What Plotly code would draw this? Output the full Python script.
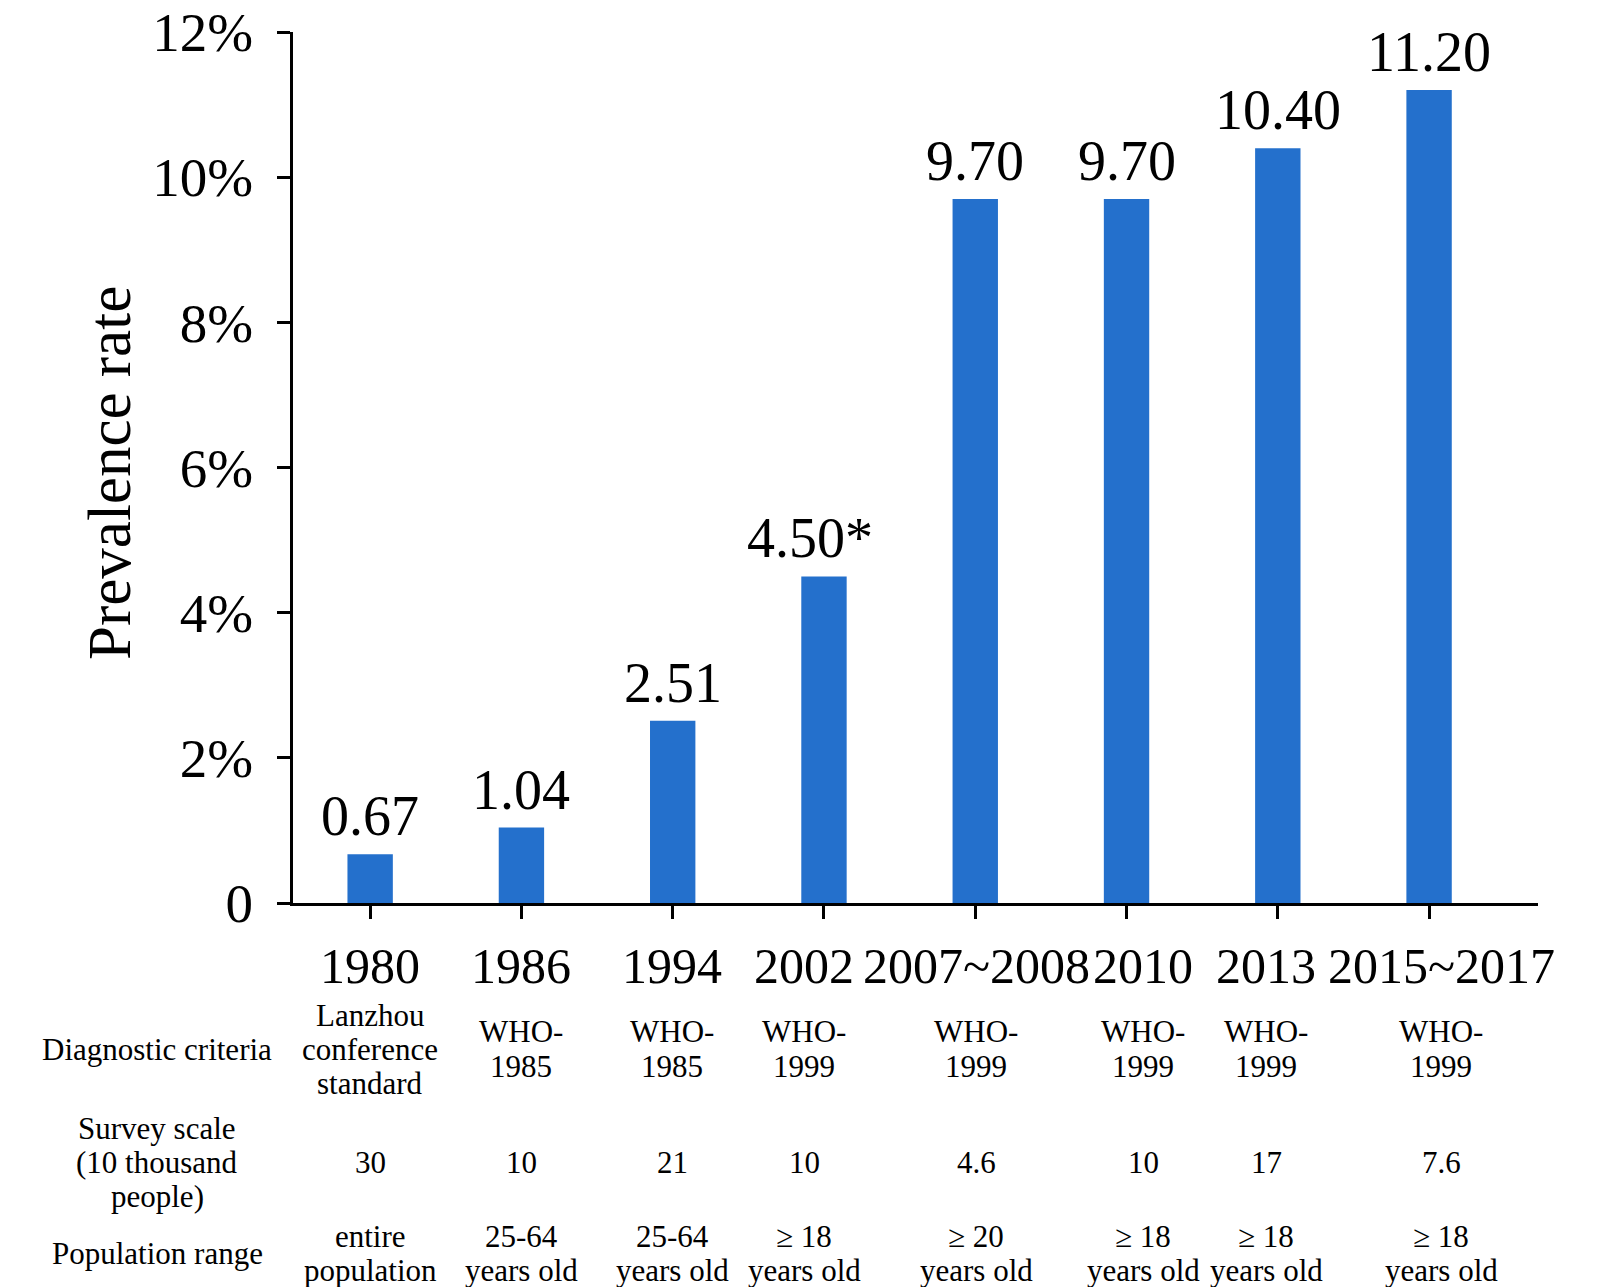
import plotly.graph_objects as go

# ---- data ----
years = ["1980", "1986", "1994", "2002", "2007~2008", "2010", "2013", "2015~2017"]
prevalence = [0.67, 1.04, 2.51, 4.50, 9.70, 9.70, 10.40, 11.20]
value_labels = ["0.67", "1.04", "2.51", "4.50*", "9.70", "9.70", "10.40", "11.20"]
criteria = ["Lanzhou<br>conference<br>standard", "WHO-<br>1985", "WHO-<br>1985", "WHO-<br>1999",
            "WHO-<br>1999", "WHO-<br>1999", "WHO-<br>1999", "WHO-<br>1999"]
survey_scale = ["30", "10", "21", "10", "4.6", "10", "17", "7.6"]
population = ["entire<br>population", "25-64<br>years old", "25-64<br>years old", "≥ 18<br>years old",
              "≥ 20<br>years old", "≥ 18<br>years old", "≥ 18<br>years old", "≥ 18<br>years old"]
row_labels = ["Diagnostic criteria", "Survey scale<br>(10 thousand<br>people)", "Population range"]
y_ticks = [0, 2, 4, 6, 8, 10, 12]
y_ticktext = ["0", "2%", "4%", "6%", "8%", "10%", "12%"]

# ---- layout constants (pixels, in page coordinates) ----
W, H = 1600, 1287
BODY = 8  # default page body margin
PLOT_L, PLOT_R, PLOT_T, PLOT_B = 293, 1538, 32, 903
PW = PLOT_R - PLOT_L
PH = PLOT_B - PLOT_T
col_px = [370, 521, 672, 804, 976, 1143, 1266, 1441]
label_col_px = 157
year_row_py = 966
row_center_py = [1049, 1162, 1253]
line_gap = 34
FONT = "Liberation Serif"


def px2x(px):
    return (px - PLOT_L) / PW


def py2y(py):
    return (PLOT_B - py) / PH


fig = go.Figure()
fig.add_trace(go.Bar(
    x=list(range(len(years))), y=prevalence,
    width=0.30, marker=dict(color="#2470CC", line=dict(width=0)),
    hoverinfo="skip",
))

ann = []
# value labels (a trailing asterisk hangs to the right of the centred number)
for i, (v, t) in enumerate(zip(prevalence, value_labels)):
    ann.append(dict(x=i, y=v, xref="x", yref="y", text=t, showarrow=False,
                    yanchor="bottom", xanchor="center", yshift=5,
                    xshift=-14 if t.endswith("*") else 0,
                    font=dict(family=FONT, size=56, color="black")))

# year labels
for px, t in zip(col_px, years):
    ann.append(dict(x=px2x(px), y=py2y(year_row_py), xref="paper", yref="paper", text=t,
                    showarrow=False, xanchor="center", yanchor="middle",
                    font=dict(family=FONT, size=50, color="black")))


def add_cell(px, center_py, text, size=31):
    lines = text.split("<br>")
    n = len(lines)
    for k, ln in enumerate(lines):
        py = center_py + (k - (n - 1) / 2) * line_gap
        ann.append(dict(x=px2x(px), y=py2y(py), xref="paper", yref="paper", text=ln,
                        showarrow=False, xanchor="center", yanchor="middle",
                        font=dict(family=FONT, size=size, color="black")))


for r, lab in enumerate(row_labels):
    add_cell(label_col_px, row_center_py[r], lab)
for px, c, s, p in zip(col_px, criteria, survey_scale, population):
    add_cell(px, row_center_py[0], c)
    add_cell(px, row_center_py[1], s)
    add_cell(px, row_center_py[2], p)

# y-axis title
ann.append(dict(x=px2x(109), y=py2y(473), xref="paper", yref="paper", text="Prevalence rate",
                showarrow=False, textangle=-90, xanchor="center", yanchor="middle",
                font=dict(family=FONT, size=61, color="black")))

fig.update_layout(
    width=W, height=H,
    margin=dict(l=PLOT_L - BODY, r=W - (PLOT_R - BODY), t=PLOT_T - BODY, b=H - (PLOT_B - BODY),
                pad=0, autoexpand=False),
    plot_bgcolor="white", paper_bgcolor="white",
    showlegend=False,
    annotations=ann,
    font=dict(family=FONT, color="black"),
    xaxis=dict(range=[-0.51, 7.72], tickvals=list(range(len(years))), showticklabels=False,
               automargin=False,
               ticks="outside", ticklen=13, tickwidth=3, tickcolor="black",
               showline=True, linewidth=3, linecolor="black", showgrid=False, zeroline=False),
    yaxis=dict(range=[0, 12], tickvals=y_ticks, ticktext=y_ticktext, automargin=False,
               ticklabeloverflow="allow",
               ticks="outside", ticklen=13, tickwidth=3, tickcolor="black",
               ticklabelstandoff=13,
               tickfont=dict(family=FONT, size=55, color="black"),
               showline=True, linewidth=3, linecolor="black", showgrid=False, zeroline=False),
)

fig.write_html("out.html")
